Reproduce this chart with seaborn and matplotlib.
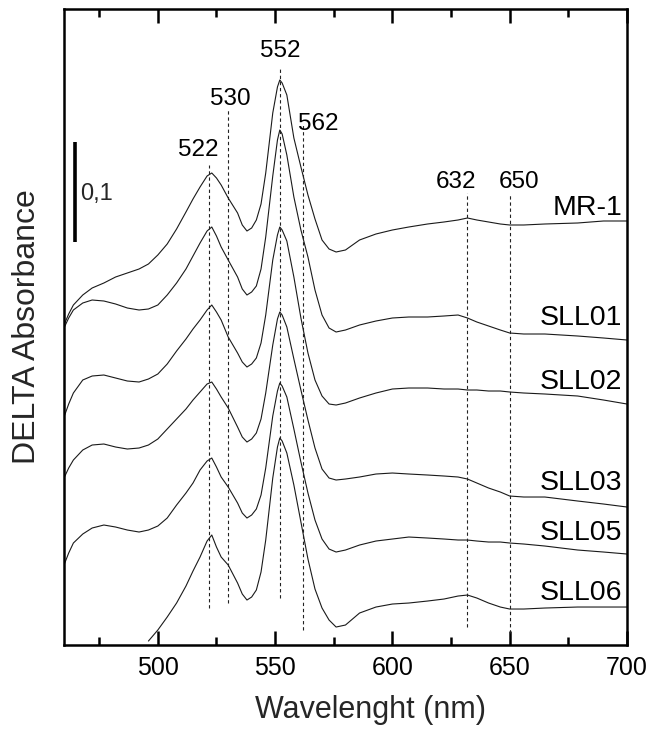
import numpy as np
import pandas as pd
import matplotlib
matplotlib.use("Agg")
import matplotlib.pyplot as plt
from matplotlib.ticker import MultipleLocator, NullLocator
import seaborn as sns

# wavelength grid (nm) the spectra were read on
WAVELENGTH = [460, 462, 464, 468, 472, 477, 482, 487, 492, 496,
              500, 504, 508, 512, 515, 518, 521, 523, 525, 527,
              530, 534, 536, 538, 540, 542, 544, 546, 549, 551,
              552, 553, 555, 558, 561, 564, 567, 570, 573, 576,
              580, 586, 593, 600, 607, 615, 622, 628, 632, 636,
              641, 646, 650, 656, 665, 679, 690, 700]

# stacked delta absorbance, one list per strain
MR1 = [.320, .331, .340, .350, .357, .362, .368, .372, .376, .381,
       .390, .401, .416, .433, .446, .458, .469, .472, .467, .460,
       .447, .432, .420, .414, .417, .425, .441, .472, .532, .558,
       .565, .562, .550, .507, .478, .450, .426, .405, .396, .393,
       .395, .405, .411, .415, .418, .421, .423, .425, .427, .425,
       .423, .421, .420, .420, .421, .422, .424, .424]
SLL01 = [.317, .327, .335, .342, .345, .344, .341, .337, .335, .336,
         .340, .350, .362, .376, .389, .402, .414, .418, .409, .398,
         .385, .368, .356, .350, .353, .359, .376, .408, .469, .505,
         .515, .511, .490, .448, .415, .388, .355, .330, .317, .313,
         .315, .320, .324, .327, .328, .328, .329, .330, .327, .323,
         .319, .315, .312, .311, .311, .309, .307, .305]
SLL02 = [.228, .241, .252, .265, .269, .270, .267, .264, .263, .266,
         .271, .281, .294, .306, .316, .325, .335, .340, .333, .325,
         .308, .292, .283, .278, .281, .287, .302, .330, .385, .410,
         .418, .415, .404, .368, .327, .292, .265, .249, .241, .240,
         .242, .247, .252, .256, .257, .257, .256, .256, .255, .255,
         .254, .254, .253, .252, .251, .249, .245, .241]
SLL03 = [.167, .177, .185, .195, .200, .201, .198, .196, .197, .200,
         .206, .216, .226, .236, .245, .253, .261, .263, .256, .248,
         .237, .218, .208, .203, .206, .212, .226, .252, .300, .326,
         .333, .330, .318, .286, .255, .225, .197, .176, .167, .165,
         .166, .168, .171, .172, .171, .170, .169, .168, .166, .162,
         .157, .153, .149, .148, .148, .144, .141, .138]
SLL05 = [.080, .092, .102, .111, .117, .120, .118, .115, .113, .115,
         .119, .127, .140, .152, .162, .175, .184, .187, .178, .168,
         .158, .142, .132, .127, .130, .136, .150, .177, .229, .254,
         .262, .259, .248, .216, .183, .152, .125, .106, .096, .093,
         .095, .100, .104, .106, .108, .107, .106, .105, .105, .104,
         .103, .103, .102, .101, .099, .095, .093, .091]
SLL06 = [None, None, None, None, None, None, None, None, None, .004,
         .015, .028, .042, .059, .074, .088, .104, .110, .098, .088,
         .080, .062, .051, .045, .048, .055, .073, .105, .167, .198,
         .207, .204, .192, .160, .123, .086, .056, .037, .025, .018,
         .020, .032, .038, .041, .042, .044, .046, .049, .050, .047,
         .042, .038, .036, .036, .037, .038, .038, .038]

SAMPLES = ["MR-1", "SLL01", "SLL02", "SLL03", "SLL05", "SLL06"]
SAMPLE_LABEL_Y = [0.437, 0.327, 0.263, 0.162, 0.112, 0.052]

# marked bands (nm) and where their dashed guides / labels sit
PEAKS = [522, 530, 552, 562, 632, 650]
PEAK_TOP = [0.480, 0.536, 0.578, 0.520, 0.452, 0.452]
PEAK_BOTTOM = [0.037, 0.042, 0.047, 0.015, 0.018, 0.012]
PEAK_LABEL_X = [517.3, 531.0, 552.3, 568.5, 627.1, 654.0]
PEAK_LABEL_Y = [0.495, 0.546, 0.594, 0.521, 0.463, 0.463]

SCALE_BAR = 0.1

series = [MR1, SLL01, SLL02, SLL03, SLL05, SLL06]
frames = []
for name, values in zip(SAMPLES, series):
    frames.append(pd.DataFrame({"wavelength": WAVELENGTH,
                                "absorbance": pd.to_numeric(pd.Series(values), errors="coerce"),
                                "sample": name}))
df = pd.concat(frames, ignore_index=True).dropna()

sns.set_theme(style="ticks")
plt.rcParams["font.family"] = ["Liberation Sans", "DejaVu Sans"]

fig = plt.figure(figsize=(6.55, 7.3), dpi=100)
ax = fig.add_axes([0.0977, 0.1164, 0.8595, 0.8713])

sns.lineplot(data=df, x="wavelength", y="absorbance", units="sample",
             estimator=None, color="#1a1a1a", linewidth=0.8, legend=False, ax=ax)

ax.vlines(PEAKS, PEAK_BOTTOM, PEAK_TOP, colors="#222222",
          linestyles=(0, (3.0, 2.5)), linewidth=0.8)
for px, py, lab in zip(PEAK_LABEL_X, PEAK_LABEL_Y, PEAKS):
    ax.text(px, py, str(lab), ha="center", va="center", fontsize=17.5, color="black")

for name, ly in zip(SAMPLES, SAMPLE_LABEL_Y):
    ax.text(697.9, ly, name, ha="right", va="center", fontsize=20.5, color="black")

# 0,1 absorbance scale bar
ax.plot([464.7, 464.7], [0.403, 0.403 + SCALE_BAR], color="black",
        linewidth=2.6, solid_capstyle="butt")
ax.text(467.0, 0.451, "0,1", ha="left", va="center", fontsize=17)

ax.set_xlim(460, 700)
ax.set_ylim(0, 0.636)
ax.xaxis.set_major_locator(MultipleLocator(50))
ax.xaxis.set_minor_locator(MultipleLocator(25))
ax.yaxis.set_major_locator(NullLocator())
ax.tick_params(axis="x", which="both", direction="in", top=True, bottom=True,
               width=1.8, labelsize=18, pad=8, colors="black")
ax.tick_params(axis="x", which="major", length=10)
ax.tick_params(axis="x", which="minor", length=5.5)
ax.tick_params(axis="y", left=False, right=False, labelleft=False)
for s in ax.spines.values():
    s.set_linewidth(1.8)
    s.set_color("black")

ax.set_xlabel("Wavelenght (nm)", fontsize=22)
ax.xaxis.set_label_coords(0.544, -0.079)
ax.set_ylabel("DELTA Absorbance", fontsize=23, labelpad=16)

fig.savefig("out.png", dpi=100)
